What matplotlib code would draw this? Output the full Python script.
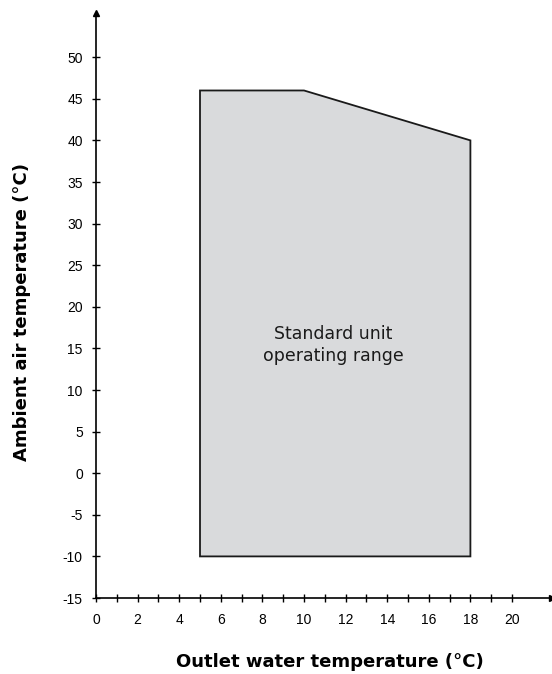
import matplotlib.pyplot as plt

plt.rcParams['axes.unicode_minus'] = False

# operating envelope (outlet water temp, ambient air temp)
env_x = [5, 5, 10, 18, 18]
env_y = [-10, 46, 46, 40, -10]

x_major = list(range(0, 21, 2))
x_minor = list(range(1, 21))
y_ticks = list(range(-15, 51, 5))

W, H = 552, 674
fig = plt.figure(figsize=(W / 100, H / 100), dpi=100)
x0, x1 = 96, 552
y0, y1 = 598, 13
ax = fig.add_axes([x0 / W, (H - y0) / H, (x1 - x0) / W, (y0 - y1) / H])

ax.fill(env_x, env_y, facecolor='#d9dadc', edgecolor='#1a1a1a', linewidth=1.3)
ax.text(11.4, 15.4, 'Standard unit\noperating range', ha='center', va='center',
        fontsize=12.5, color='#1a1a1a', linespacing=1.3)

ax.set_xlim(0, (x1 - x0) / 20.8)
ax.set_ylim(-15, -15 + (y0 - y1) / 8.32)

for s in ['top', 'right']:
    ax.spines[s].set_visible(False)
ax.spines['left'].set_linewidth(1.2)
ax.spines['bottom'].set_linewidth(1.2)

ax.set_xticks(x_major)
ax.set_xticks(x_minor, minor=True)
ax.set_yticks(y_ticks)
ax.tick_params(axis='x', which='both', direction='inout', length=6, width=1, pad=8, labelsize=10)
ax.tick_params(axis='y', direction='inout', length=6, width=1, pad=6.5, labelsize=10)
for lab in ax.get_xticklabels() + ax.get_yticklabels():
    lab.set_fontfamily('Liberation Sans')

# axis arrows
ax.plot(0, 1, marker='^', color='k', markersize=4.5, transform=ax.transAxes, clip_on=False)
ax.plot(1, 0, marker='>', color='k', markersize=4.5, transform=ax.transAxes, clip_on=False)

fig.text(330 / W, 1 - 662 / H, 'Outlet water temperature (°C)', ha='center', va='center',
         fontsize=13, fontweight='bold')
fig.text(22 / W, 1 - 312 / H, 'Ambient air temperature (°C)', ha='center', va='center',
         rotation=90, fontsize=13, fontweight='bold')

fig.savefig('out.png', dpi=100)
